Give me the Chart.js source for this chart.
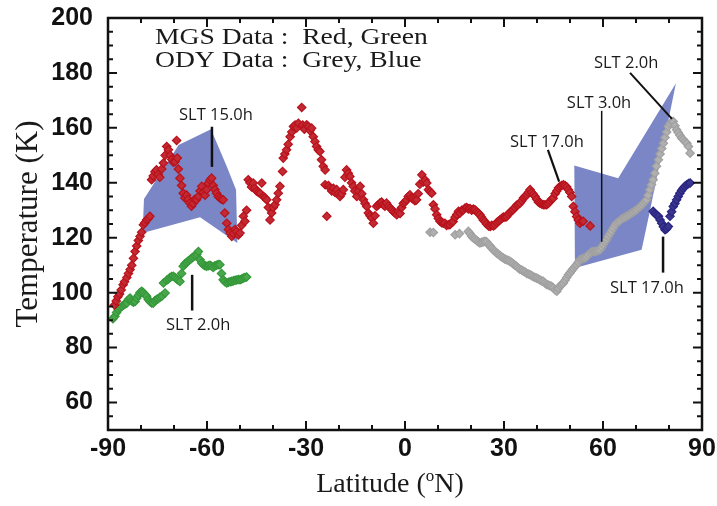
<!DOCTYPE html>
<html>
<head>
<meta charset="utf-8">
<script src="https://cdn.jsdelivr.net/npm/chart.js@4/dist/chart.umd.min.js"></script>
<style>
  html, body { margin: 0; padding: 0; background: #fff; }
  #wrap { width: 717px; height: 506px; }
</style>
</head>
<body>
<div id="wrap"><canvas id="c" width="717" height="506"></canvas></div>
<script>
// Axis tick values
const latTicks = [-90, -60, -30, 0, 30, 60, 90];
const tempTicks = [60, 80, 100, 120, 140, 160, 180, 200];

// MGS red series: [latitude (deg N), temperature (K)]
const mgsRed = [
  [-88.0,95.5],[-87.5,97],[-87.0,98.5],[-86.5,99.5],[-86.0,101],[-85.4,102.9],[-85.0,104],[-84.3,105.5],
  [-83.8,107],[-83.3,108.4],[-82.8,110],[-82.3,112.5],[-81.8,115],[-81.3,117],[-80.8,119],[-80.3,120.5],
  [-79.8,122],[-79.3,124.7],[-78.8,125.5],[-78.3,126.5],[-77.8,127],[-77.3,127.8],[-76.8,141.1],[-76.3,142.5],
  [-75.8,144],[-75.3,144.7],[-74.8,143],[-74.3,142],[-73.7,145],[-73.2,147.2],[-72.7,150],[-72.2,153.2],
  [-71.7,152],[-71.2,150],[-70.7,148.5],[-70.2,147.5],[-69.7,147.7],[-69.2,155.4],[-69.0,149],[-68.7,145],
  [-68.2,141.7],[-67.7,139],[-67.2,136.2],[-66.7,134.5],[-66.2,135.5],[-65.7,134],[-65.2,132.6],[-64.7,131.5],
  [-64.2,132.5],[-63.7,134],[-63.2,133.8],[-62.6,135],[-62.1,137],[-61.6,138.7],[-61.1,136.5],[-60.6,135.5],
  [-60.1,137.5],[-59.6,139.9],[-59.1,141],[-58.6,141.7],[-58.1,139],[-57.6,137.5],[-57.1,136.2],[-56.6,135],
  [-56.1,134.5],[-55.6,134],[-55.1,133.8],[-54.6,129],[-54.0,125.3],[-53.5,123],[-53.0,121.7],[-52.5,120.5],
  [-52.0,121.5],[-51.5,123],[-51.0,122.3],[-50.5,121],[-50.0,121.7],[-49.5,124.5],[-49.0,127.8],[-48.5,126],
  [-48.0,130],[-47.5,141.1],[-47.0,140],[-46.5,138.5],[-46.0,139.9],[-45.5,138],[-45.0,137],[-44.4,136.5],
  [-43.9,136.2],[-43.4,139.9],[-42.9,135],[-42.4,134.5],[-41.9,133.8],[-41.4,131],[-40.9,126.5],[-40.4,129],
  [-39.9,131],[-39.4,132],[-38.9,133.8],[-38.4,136.2],[-37.9,138.7],[-37.1,144.1],[-36.9,149],[-36.4,150.5],
  [-35.9,152],[-35.4,154],[-34.8,156.8],[-34.3,158.5],[-33.8,160.5],[-33.3,161],[-32.8,160],[-32.3,161.7],
  [-31.3,167.4],[-31.0,161],[-30.5,159.5],[-29.8,161.1],[-29.3,160.5],[-28.8,159],[-28.3,159.9],[-27.8,156.8],
  [-27.3,155],[-26.8,153.2],[-26.3,152],[-25.8,151.4],[-25.3,148.4],[-24.8,146],[-24.2,144.7],[-24.2,139.3],
  [-23.7,127.8],[-23.2,139],[-22.7,138.1],[-22.2,137],[-21.7,138],[-21.2,136.5],[-20.7,137.5],[-20.2,136],
  [-19.7,135],[-19.2,136],[-18.7,137.5],[-18.2,142],[-17.7,144.7],[-17.2,143.5],[-16.7,142.3],[-16.2,140],
  [-15.7,138.7],[-15.2,137],[-14.6,135],[-14.1,137],[-13.6,138.7],[-13.1,136],[-12.6,133.8],[-12.1,132.5],
  [-11.6,131.4],[-11.1,129],[-10.6,128],[-10.1,127.2],[-9.6,125.3],[-9.1,128],[-8.6,131.4],[-8.1,132],
  [-7.6,132.6],[-7.1,133],[-6.6,132],[-6.1,131.5],[-5.6,132.6],[-5.0,131.5],[-4.5,130.8],[-4.0,130.2],
  [-3.5,129.5],[-3.0,129],[-2.5,128.4],[-2.0,129.5],[-1.5,128.8],[-1.0,131],[-0.5,132.5],[0.0,133],
  [0.5,133.8],[1.0,135],[1.5,135.6],[2.0,134.5],[2.5,134],[3.0,133.5],[3.5,133.8],[4.0,136],
  [4.5,139.5],[5.1,142.9],[5.6,140.3],[6.1,141],[6.6,139.9],[7.1,137.5],[7.6,136.8],[8.1,136.2],
  [8.6,132],[9.1,130.5],[9.6,128.4],[10.1,127],[10.6,126],[11.1,125.5],[11.6,125.3],[12.1,125.3],
  [12.6,124.5],[13.1,124.7],[13.6,124.7],[14.1,125.5],[14.6,125.9],[15.2,127.5],[15.7,128.5],[16.2,129.6],
  [16.7,129],[17.2,130],[17.7,130.2],[18.2,130.8],[18.7,131],[19.2,130.5],[19.7,130.6],[20.2,130],
  [20.7,130.4],[21.2,130.2],[21.7,129.5],[22.2,129],[22.7,128.4],[23.2,127.5],[23.7,126.5],[24.2,125.9],
  [24.7,125],[25.3,124.3],[25.8,124.1],[26.3,124.5],[26.8,124.3],[27.3,124.7],[27.8,125.5],[28.3,126],
  [28.8,126.5],[29.3,127],[29.8,127.5],[30.3,127.5],[30.8,127.7],[31.3,128.5],[31.8,129.3],[32.3,129.8],
  [32.8,130.2],[33.3,131],[33.8,131.8],[34.3,132],[34.8,132.6],[35.4,133.5],[35.9,134.5],[36.4,135],
  [36.9,135.6],[37.4,136.5],[37.9,137.5],[38.4,136.5],[38.9,135.8],[39.4,135],[39.9,134],[40.4,133],
  [40.9,132.6],[41.4,132.3],[41.9,132],[42.4,132],[42.9,132],[43.4,132.5],[43.9,133.2],[44.4,134],
  [44.9,134.4],[45.5,136],[46.0,137],[46.5,138.1],[47.0,138.7],[47.5,139],[48.0,139.3],[48.5,139],
  [49.0,138.5],[49.5,137.5],[50.0,136.5],[50.5,135],[51.0,131.4],[51.5,129.5],[52.0,127.7],[52.5,126.5],
  [53.0,125.3],[53.5,125.9],[54.0,126],[56.1,124.3]
];

// MGS green series
const mgsGreen = [
  [-88.5,90.5],[-87.9,91.4],[-87.4,92.8],[-86.9,93.8],[-86.4,94.5],[-85.8,95],[-85.3,95.5],[-84.8,95.9],
  [-84.3,96.2],[-83.8,97.5],[-83.3,98],[-82.8,97],[-82.3,96.5],[-81.8,96.8],[-81.3,98],[-80.8,99],
  [-80.3,100],[-79.8,100.5],[-79.3,100],[-78.8,99.3],[-78.3,98.7],[-77.8,97.5],[-77.3,96.8],[-76.8,96.3],
  [-76.3,96.2],[-75.8,97],[-75.3,97.5],[-74.8,97.8],[-74.3,98.3],[-73.7,98.7],[-73.2,103.5],[-72.7,99.9],
  [-72.2,104.5],[-71.7,105],[-71.2,105.5],[-70.7,105.9],[-70.2,106],[-69.7,105.5],[-69.2,105],[-68.7,104.5],
  [-68.2,104.1],[-67.7,107],[-67.2,109.6],[-66.7,110.5],[-66.2,111],[-65.7,111.5],[-65.2,112],[-64.7,112.5],
  [-64.2,113],[-63.6,113.5],[-63.1,114],[-62.6,115],[-62.1,112],[-61.6,110.8],[-61.1,110.2],[-60.6,109.8],
  [-60.1,109.6],[-59.6,109.8],[-59.1,110],[-58.6,109.6],[-58.1,109.2],[-57.6,109.8],[-57.1,110],[-56.6,110.2],
  [-56.1,110.2],[-55.6,107],[-55.1,104.7],[-54.6,104],[-54.0,103.5],[-53.5,103.8],[-53.0,104],[-52.5,104.1],
  [-52.0,104.3],[-51.5,104.5],[-51.0,104.6],[-50.5,104.8],[-50.0,104.7],[-49.5,105],[-49.0,105.3],[-48.5,105.5],
  [-48.0,105.7]
];

// ODY grey series
const odyGrey = [
  [7.6,122],[8.6,121.9],[15.2,121.1],[16.5,121.5],[19.2,122.3],[19.7,121.5],[20.2,120.5],[20.7,119.9],
  [21.2,119.5],[21.7,119],[22.2,118.5],[22.7,118.1],[23.2,118.3],[23.7,118.5],[24.2,118.7],[24.7,118.5],
  [25.3,117.5],[25.8,117],[26.3,116.2],[26.8,115.5],[27.3,115],[27.8,114.4],[28.3,114],[28.8,113.5],
  [29.3,113],[29.8,112.6],[30.3,112.2],[30.8,112],[31.3,111.7],[31.8,111.4],[32.3,111],[32.8,110.5],
  [33.3,110],[33.8,109.6],[34.3,109],[34.8,108.5],[35.4,108.2],[35.9,107.8],[36.4,107.5],[36.9,107],
  [37.4,106.8],[37.9,106.5],[38.4,106.2],[38.9,105.8],[39.4,105.5],[39.9,105.3],[40.4,105],[40.9,104.6],
  [41.4,104.3],[41.9,104.1],[42.4,103.5],[42.9,103],[43.4,102.8],[43.9,102.5],[44.4,102.3],[44.9,101.8],
  [45.5,101],[46.0,100.5],[46.5,101.5],[47.0,102.5],[47.5,103],[48.0,103.5],[48.5,104.5],[49.0,105.5],
  [49.5,106.5],[50.0,107.2],[50.5,108],[51.0,108.8],[51.5,109.5],[52.0,110.2],[52.5,111],[53.0,112],
  [53.5,112.3],[54.0,112.5],[54.5,112.6],[55.0,113],[55.5,113.8],[56.1,114.4],[56.6,114.8],[57.1,115],
  [57.6,115],[58.1,115.2],[58.6,115.4],[59.1,115.6],[59.6,116.5],[60.1,117.5],[60.6,118.5],[61.1,119.3],
  [61.6,120.5],[62.1,121.5],[62.6,122.5],[63.1,123.5],[63.6,124.5],[64.1,125.3],[64.6,125.8],[65.1,126.2],
  [65.6,126.8],[66.2,127.2],[66.7,127.5],[67.2,127.8],[67.7,128.2],[68.2,128.6],[68.7,129],[69.2,129.4],
  [69.7,129.8],[70.2,130.2],[70.7,130.8],[71.2,131.3],[71.7,131.8],[72.2,132.5],[72.7,133.2],[73.2,133.8],
  [73.7,135.5],[74.2,137.5],[74.7,139.3],[75.2,141.1],[75.7,143.5],[76.2,146],[76.8,148.4],[77.3,150.5],
  [77.8,152.5],[78.3,154.4],[78.8,156.5],[79.3,158.5],[79.8,160.5],[80.3,161.5],[80.8,162.3],[81.3,162.3],
  [81.8,160.8],[82.3,159.3],[82.8,158.3],[83.3,157.3],[83.8,156.3],[84.3,155.8],[84.8,155],[85.4,154.4],
  [85.9,153.2],[86.4,150.8]
];

// ODY blue series
const odyBlue = [
  [75.2,129.6],[75.7,128.8],[76.2,128.3],[76.8,127.8],[77.3,126.5],[77.8,125.3],[78.3,124],[78.8,122.9],
  [79.3,123.3],[79.8,124.1],[80.3,127.8],[80.8,129.5],[81.3,131.4],[81.8,132.5],[82.3,133.8],[82.8,135],
  [83.3,136.2],[83.8,137.2],[84.3,138],[84.8,138.7],[85.4,139.3],[85.9,139.7],[86.4,139.9]
];

// Shaded spread regions (polygon vertices, lat / K)
const southBand = [[-79.1,134.1],[-68.6,153.8],[-58.8,159.5],[-54.0,145.9],[-51.2,137.5],[-50.8,118.1],[-62.1,127.5],[-79.5,121.7]];
const northBand = [[51.3,146.3],[64.6,141.7],[82.1,176.2],[74.2,129.6],[71.7,115.6],[51.5,109.0]];

// Local-time labels: text anchor and leader line, in data units
const sltNotes = [
  { text: 'SLT 15.0h', at: [-57.3, 164.7], line: [[-58.5, 160.4], [-58.5, 145.8]], w: 2.5 },
  { text: 'SLT 2.0h',  at: [-62.7, 88.0],  line: [[-64.5, 106.5], [-64.5, 93.5]],  w: 2.5 },
  { text: 'SLT 17.0h', at: [43.0, 154.9],  line: [[43.3, 152.0], [46.7, 140.4]],   w: 2.2 },
  { text: 'SLT 3.0h',  at: [58.8, 169.1],  line: [[59.6, 166.2], [59.6, 118.5]],   w: 1.5 },
  { text: 'SLT 2.0h',  at: [67.0, 183.6],  line: [[68.2, 180.0], [80.9, 163.3]],   w: 2.0 },
  { text: 'SLT 17.0h', at: [73.3, 101.5],  line: [[78.2, 120.4], [78.2, 107.3]],   w: 2.5 }
];

const toXY = arr => arr.map(p => ({ x: p[0], y: p[1] }));

function series(label, data, border, fill) {
  return {
    label, data: toXY(data), showLine: false,
    pointStyle: 'rectRot', pointRadius: 4.2, pointBorderWidth: 1.2,
    pointBorderColor: border, pointBackgroundColor: fill,
    pointHoverRadius: 4.2
  };
}

// Filled spread polygons, drawn beneath the points
const bandsPlugin = {
  id: 'bands',
  beforeDatasetsDraw(chart) {
    const { ctx, scales: { x, y } } = chart;
    ctx.save();
    ctx.fillStyle = 'rgb(122,134,198)';
    [southBand, northBand].forEach(poly => {
      ctx.beginPath();
      poly.forEach((p, i) => {
        const px = x.getPixelForValue(p[0]), py = y.getPixelForValue(p[1]);
        if (i === 0) ctx.moveTo(px, py); else ctx.lineTo(px, py);
      });
      ctx.closePath();
      ctx.fill();
    });
    ctx.restore();
  }
};

// Frame, inward ticks, titles, legend text and local-time labels
const decorPlugin = {
  id: 'decor',
  afterDatasetsDraw(chart) {
    const { ctx, chartArea: a, scales: { x, y } } = chart;
    ctx.save();

    // local-time labels
    ctx.fillStyle = '#1a1a1a';
    ctx.strokeStyle = '#111';
    ctx.font = '16.5px "Open Sans"';
    ctx.textAlign = 'center';
    ctx.textBaseline = 'middle';
    sltNotes.forEach(n => {
      ctx.fillText(n.text, x.getPixelForValue(n.at[0]), y.getPixelForValue(n.at[1]));
      ctx.lineWidth = n.w;
      ctx.beginPath();
      ctx.moveTo(x.getPixelForValue(n.line[0][0]), y.getPixelForValue(n.line[0][1]));
      ctx.lineTo(x.getPixelForValue(n.line[1][0]), y.getPixelForValue(n.line[1][1]));
      ctx.stroke();
    });

    // frame
    ctx.strokeStyle = '#111';
    ctx.lineWidth = 2.5;
    ctx.strokeRect(a.left, a.top, a.right - a.left, a.bottom - a.top);

    // inward ticks on all four sides
    ctx.lineWidth = 2;
    ctx.beginPath();
    for (let v = -90; v <= 90; v += 10) {
      const px = x.getPixelForValue(v);
      const len = (v % 30 === 0) ? 9 : 5;
      ctx.moveTo(px, a.bottom); ctx.lineTo(px, a.bottom - len);
      ctx.moveTo(px, a.top); ctx.lineTo(px, a.top + len);
    }
    for (let v = 50; v <= 200; v += 5) {
      const py = y.getPixelForValue(v);
      const len = (v % 20 === 0) ? 9 : 5;
      ctx.moveTo(a.left, py); ctx.lineTo(a.left + len, py);
      ctx.moveTo(a.right, py); ctx.lineTo(a.right - len, py);
    }
    ctx.stroke();

    // axis titles
    ctx.fillStyle = '#1a1a1a';
    ctx.textBaseline = 'alphabetic';
    ctx.font = '31px "Liberation Serif"';
    ctx.save();
    ctx.translate(37, (a.top + a.bottom) / 2);
    ctx.rotate(-Math.PI / 2);
    ctx.textAlign = 'center';
    ctx.fillText('Temperature (K)', 0, 0);
    ctx.restore();

    const cx = 390;
    const base = 492;
    const p1 = 'Latitude (', sup = 'o', p2 = 'N)';
    ctx.font = '28px "Liberation Serif"';
    const w1 = ctx.measureText(p1).width, w3 = ctx.measureText(p2).width;
    ctx.font = '17px "Liberation Serif"';
    const w2 = ctx.measureText(sup).width;
    let sx = cx - (w1 + w2 + w3) / 2;
    ctx.textAlign = 'left';
    ctx.font = '28px "Liberation Serif"';
    ctx.fillText(p1, sx, base);
    ctx.font = '17px "Liberation Serif"';
    ctx.fillText(sup, sx + w1, base - 11);
    ctx.font = '28px "Liberation Serif"';
    ctx.fillText(p2, sx + w1 + w2, base);

    // data source legend
    ctx.font = '24px "Liberation Serif"';
    ctx.textBaseline = 'middle';
    ctx.save();
    ctx.translate(155, 0);
    ctx.scale(1.15, 1);
    ctx.fillText('MGS Data :  Red, Green', 0, 38);
    ctx.fillText('ODY Data :  Grey, Blue', 0, 61);
    ctx.restore();

    ctx.restore();
  }
};

new Chart(document.getElementById('c'), {
  type: 'scatter',
  data: {
    datasets: [
      series('MGS red', mgsRed, '#b8121c', '#c42a33'),
      series('ODY grey', odyGrey, '#a0a0a0', '#b0b0b0'),
      series('ODY blue', odyBlue, '#2a2680', '#3a3690'),
      series('MGS green', mgsGreen, '#35983a', '#49a84c')
    ]
  },
  options: {
    responsive: false,
    animation: false,
    events: [],
    layout: { padding: { top: 18, right: 15, left: 0, bottom: 0 } },
    plugins: { legend: { display: false }, tooltip: { enabled: false } },
    scales: {
      x: {
        type: 'linear', min: -90, max: 90,
        afterBuildTicks: s => { s.ticks = latTicks.map(v => ({ value: v })); },
        afterFit: s => { s.height = 76; s.paddingLeft = 0; s.paddingRight = 0; },
        grid: { display: false, drawTicks: false },
        border: { display: false },
        ticks: { color: '#111', padding: 4, maxRotation: 0, autoSkip: false,
                 font: { family: '"Liberation Sans"', weight: 'bold', size: 25 } }
      },
      y: {
        type: 'linear', min: 50, max: 200,
        afterBuildTicks: s => { s.ticks = tempTicks.map(v => ({ value: v })); },
        afterFit: s => { s.width = 108; s.paddingTop = 0; s.paddingBottom = 0; },
        grid: { display: false, drawTicks: false },
        border: { display: false },
        ticks: { color: '#111', padding: 15, autoSkip: false,
                 font: { family: '"Liberation Sans"', weight: 'bold', size: 25 } }
      }
    }
  },
  plugins: [bandsPlugin, decorPlugin]
});
</script>
</body>
</html>
